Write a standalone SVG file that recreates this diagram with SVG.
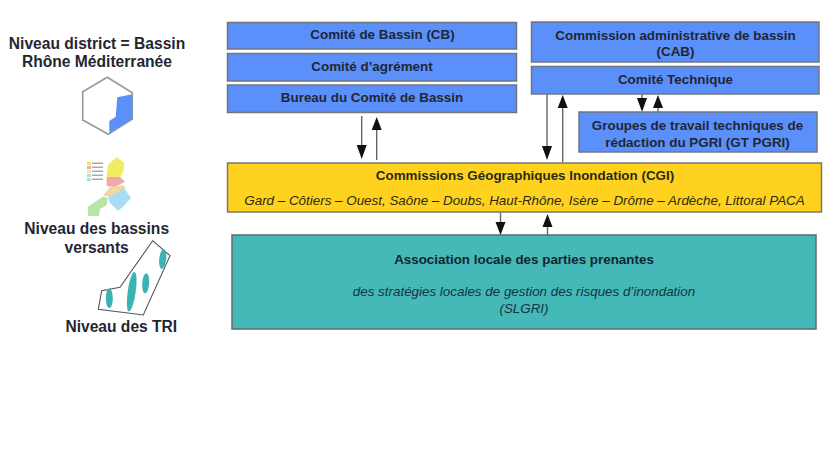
<svg xmlns="http://www.w3.org/2000/svg" width="836" height="460" viewBox="0 0 836 460">
<style>
text{font-family:"Liberation Sans",Arial,sans-serif;text-anchor:middle;fill:#1f2733}
.b{font-weight:700;font-size:13.4px}
.l{font-weight:700;font-size:15.6px}
.i{font-style:italic;font-size:13.4px}
.blue{fill:#5b8ff9;stroke:#70767f;stroke-width:1.5}
.c{stroke:#666;stroke-width:1.4;fill:none}
.a{fill:#111}
.e{fill:#3bb3b3}
.g{fill:#aaa}
</style>
<defs><filter id="soft" x="-10%" y="-10%" width="120%" height="120%"><feGaussianBlur stdDeviation="0.5"/></filter></defs>
<rect width="836" height="460" fill="#fff"/>
<g id="connectors">
<path class="c" d="M361.700 116V146M376.700 129V160M547 94V146M562.700 107V162M642 94V99M658 107V112M500.500 212V223M547.500 225V235"/>
<path class="a" d="M356.700 145h10l-5 14zM371.700 130h10l-5-13zM542 146h10l-5 14zM557.700 108h10l-5-13zM637 98h10l-5 14zM653 108h10l-5-13zM495.500 222h10l-5 13zM542.500 227h10l-5-13z"/>
</g>
<g id="cb"><rect class="blue" x="227.500" y="22.500" width="289" height="26.500"/><text class="b" x="382.500" y="39">Comité de Bassin (CB)</text></g>
<g id="agrement"><rect class="blue" x="227.500" y="53.500" width="289" height="27.500"/><text class="b" x="372" y="70.500">Comité d’agrément</text></g>
<g id="bureau"><rect class="blue" x="227.500" y="85" width="289" height="27.500"/><text class="b" x="372" y="102">Bureau du Comité de Bassin</text></g>
<g id="cab"><rect class="blue" x="531.500" y="22" width="287.500" height="40"/><text class="b" x="675.500" y="39.500">Commission administrative de bassin</text><text class="b" x="675.500" y="56">(CAB)</text></g>
<g id="technique"><rect class="blue" x="531.500" y="66.500" width="287.500" height="27.500"/><text class="b" x="675.500" y="84">Comité Technique</text></g>
<g id="gt"><rect class="blue" x="579" y="112" width="238" height="40"/><text class="b" x="697.500" y="130">Groupes de travail techniques de</text><text class="b" x="697.500" y="147">rédaction du PGRI (GT PGRI)</text></g>
<g id="cgi"><rect x="227.500" y="163" width="594" height="49" fill="#ffd21f" stroke="#777" stroke-width="1.500"/><text class="b" x="525" y="180" style="fill:#2b2a14">Commissions Géographiques Inondation (CGI)</text><text class="i" x="524.500" y="204.500" style="fill:#2b2a14">Gard – Côtiers – Ouest, Saône – Doubs, Haut-Rhône, Isère – Drôme – Ardèche, Littoral PACA</text></g>
<g id="ass"><rect x="232" y="235" width="584" height="94" fill="#45b8b8" stroke="#62686c" stroke-width="1.500"/><text class="b" x="524" y="263.500" style="fill:#12262e">Association locale des parties prenantes</text><text class="i" x="524" y="295.500" style="fill:#12363e">des stratégies locales de gestion des risques d’inondation</text><text class="i" x="524" y="312.500" style="fill:#12363e">(SLGRI)</text></g>
<g id="district"><text class="l" x="97" y="48.500">Niveau district = Bassin</text><text class="l" x="97" y="67">Rhône Méditerranée</text>
<path d="M107.300 77.300L132.300 92.700V119L108.300 134.300L82.700 120V91.700Z" fill="#fff" stroke="#999" stroke-width="1.600"/><path d="M117.300 97.300L132.300 94.300V119L109.300 133.300V121L115.700 116.700Z" fill="#5b8ff9"/></g>
<g id="carte" filter="url(#soft)">
<path d="M116.700 157L124 163V170L120 178L106.700 176.700L108 165Z" fill="#f2ec60"/>
<path d="M106.700 177L120 177L125 181.700L115 187L106.700 186Z" fill="#eea8ae"/>
<path d="M110 186.700L115 187L121.700 185L126 187L119.300 193L110 196.700L102.700 196Z" fill="#f3d89c"/>
<path d="M119 191.700L124 188L131 198L123 206.700L118 210.700L110 203L108 196.700Z" fill="#a8dcf2"/>
<path d="M102.700 196.700L108 198L106.700 205L100 209L99 216H88V206.700L98 200Z" fill="#b5e6a5"/>
<rect x="87" y="162" width="4" height="3" fill="#eee060"/><rect x="92" y="162.500" width="11" height="1.500" class="g"/>
<rect x="87" y="166" width="4" height="3" fill="#eea8ae"/><rect x="92" y="166.500" width="11" height="1.500" class="g"/>
<rect x="87" y="170" width="4" height="3" fill="#f3e3a8"/><rect x="92" y="170.500" width="11" height="1.500" class="g"/>
<rect x="87" y="174" width="4" height="3" fill="#a8dcf2"/><rect x="92" y="174.500" width="11" height="1.500" class="g"/>
<rect x="87" y="178" width="4" height="3" fill="#b5e6a5"/><rect x="92" y="178.500" width="11" height="1.500" class="g"/>
</g>
<g id="bv"><text class="l" x="96.700" y="234">Niveau des bassins</text><text class="l" x="96.700" y="253">versants</text></g>
<g id="tri"><path d="M152.700 240.700L170 255.700L143.300 315L98.300 309.300L101.700 290.700L120 287.300Z" fill="#fff" stroke="#555" stroke-width="1.100"/><ellipse class="e" cx="162.700" cy="259" rx="3.500" ry="10" transform="rotate(6 162.700 259)"/><ellipse class="e" cx="131.700" cy="291.700" rx="4" ry="20" transform="rotate(8 131.700 291.700)"/><ellipse class="e" cx="145.700" cy="283.300" rx="3.500" ry="10" transform="rotate(4 145.700 283.300)"/><ellipse class="e" cx="109.300" cy="298.300" rx="3.500" ry="10"/></g>
<g id="trilabel"><text class="l" x="121.300" y="332">Niveau des TRI</text></g>
</svg>
